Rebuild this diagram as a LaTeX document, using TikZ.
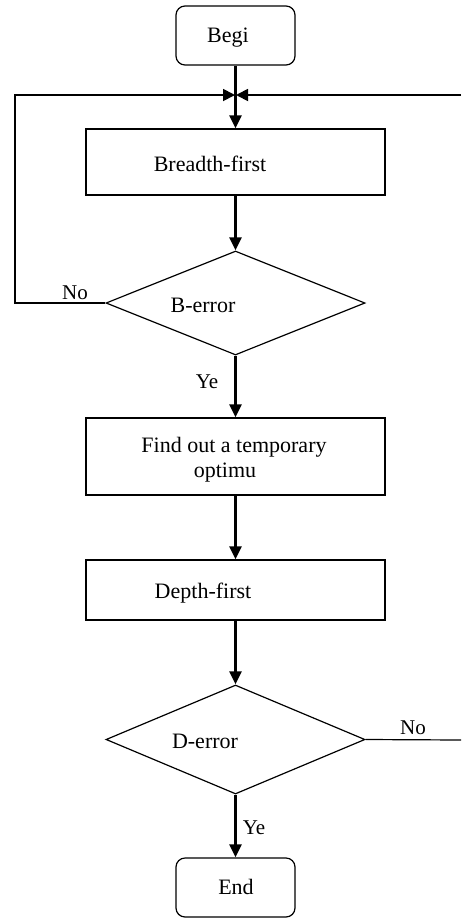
\documentclass[tikz,border=0pt]{standalone}
\usepackage{fontspec}
\setmainfont{Liberation Serif}
\usetikzlibrary{shapes.geometric,arrows.meta}
\begin{document}
\begin{tikzpicture}[x=1pt,y=-1pt,
  box/.style={draw,line width=1.2pt,inner sep=0pt,minimum width=299pt},
  term/.style={draw,line width=1.2pt,rounded corners=9pt,inner sep=0pt,minimum width=119pt,minimum height=59pt},
  decision/.style={draw,line width=1.2pt,diamond,inner sep=0pt,minimum width=259pt},
  txt/.style={font=\fontsize{22}{26}\selectfont,inner sep=0pt,align=center},
  lbl/.style={font=\fontsize{21}{24}\selectfont,inner sep=0pt},
  flow/.style={line width=2.6pt,-{Triangle[length=13pt,width=12pt]}},
  loop/.style={line width=1.8pt,-{Triangle[length=12pt,width=12pt]}},
  plain/.style={line width=1.2pt}]
\useasboundingbox (0,0) rectangle (461,918);
% shapes
\node[term] (begin) at (235.5,35.5) {};
\node[box,minimum height=66pt] (breadth) at (235.5,162) {};
\node[decision,minimum height=104pt] (berr) at (235.5,303) {};
\node[box,minimum height=77pt] (find) at (235.5,456.5) {};
\node[box,minimum height=60pt] (depth) at (235.5,590) {};
\node[decision,minimum height=109pt] (derr) at (235.5,739.5) {};
\node[term] (end) at (235.5,887.5) {};
% texts
\node[txt] (tbegin) at (228,38) {Begi};
\node[txt] (tbreadth) at (210,164) {Breadth-first};
\node[txt] (tberr) at (203,305) {B-error};
\node[txt] (tfind1) at (234,447) {Find out a temporary};
\node[txt] (tfind2) at (225,473) {optimu};
\node[txt] (tdepth) at (203,593) {Depth-first};
\node[txt] (tderr) at (205,741) {D-error};
\node[txt] (tend) at (236,887) {End};
% labels
\node[lbl] (no1) at (75,293) {No};
\node[lbl] (ye1) at (207,382) {Ye};
\node[lbl] (no2) at (413,728) {No};
\node[lbl] (ye2) at (254,828) {Ye};
% coordinates
\coordinate (merge) at (235.5,95);
\coordinate (lcorner) at (15,303);
\coordinate (ltop) at (15,95);
\coordinate (rtop) at (461,95);
\coordinate (rend) at (461,740);
% connectors
\draw[flow] (begin.south) -- (breadth.north);
\draw[loop] (berr.west) -- (lcorner) -- (ltop) -- ([xshift=-0.5pt]merge);
\draw[loop] (rtop) -- ([xshift=0.5pt]merge);
\draw[flow] (breadth.south) -- (berr.north);
\draw[flow] (berr.south) -- (find.north);
\draw[flow] (find.south) -- (depth.north);
\draw[flow] (depth.south) -- (derr.north);
\draw[flow] (derr.south) -- (end.north);
\draw[plain] (derr.east) -- (rend);
\end{tikzpicture}
\end{document}
